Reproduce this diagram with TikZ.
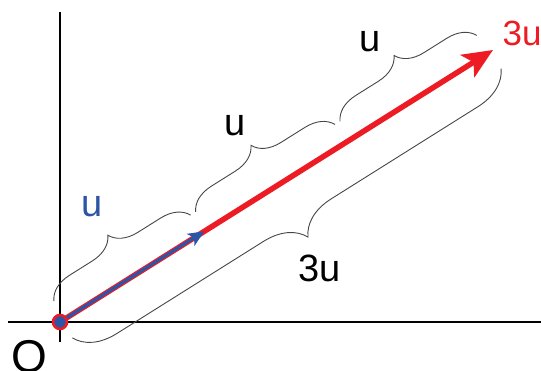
\documentclass[tikz,border=0pt]{standalone}
\usepackage{fontspec}
\setmainfont{Liberation Sans}
\usepackage{tikz}
\usetikzlibrary{positioning, arrows.meta, calc, decorations.pathreplacing}
\definecolor{vecred}{RGB}{237,28,36}
\definecolor{vecblue}{RGB}{46,84,166}
\definecolor{bracegray}{RGB}{70,70,70}

\begin{document}
\begin{tikzpicture}[x=1pt, y=1pt,
        axis/.style={line width=2.4pt, black},
        bigvec/.style={line width=5.5pt, vecred, -{Stealth[length=30pt, width=26pt, inset=7pt]}},
        smallvec/.style={line width=3.2pt, vecblue, -{Stealth[length=16pt, width=14pt, inset=4pt]}},
        ubrace/.style={draw=bracegray, line width=0.9pt, decorate,
            decoration={brace, amplitude=27pt, raise=21pt}},
        lbrace/.style={draw=bracegray, line width=0.9pt, decorate,
            decoration={brace, amplitude=40pt, raise=20pt}},
        vlbl/.style={font=\fontsize{38}{44}\selectfont, inner sep=0pt}]
        \useasboundingbox (0,0) rectangle (541,371);
        % points along the vector
        \coordinate (O)  at (60, 49);
        \coordinate (U1) at ($(O)+(144.33, 90.67)$);
        \coordinate (U2) at ($(O)+(288.67, 181.33)$);
        \coordinate (U3) at ($(O)+(433, 272)$);
        % axes
        \coordinate (xl) at (8, 49);
        \coordinate (xr) at (541, 49);
        \coordinate (yb) at (60, 29);
        \coordinate (yt) at (60, 359);
        \draw[axis] (xl) -- (xr);
        \draw[axis] (yb) -- (yt);
        % braces
        \draw[ubrace] ($(O)!6pt!(U1)$) -- ($(U1)!3pt!(O)$);
        \draw[ubrace] ($(U1)!3pt!(U2)$) -- ($(U2)!3pt!(U1)$);
        \draw[ubrace] ($(U2)!3pt!(U3)$) -- ($(U3)!6pt!(U2)$);
        \draw[lbrace] ($(U3)!3pt!(O)$) -- ($(O)!2pt!(U3)$);
        % vectors
        \draw[bigvec] (O) -- (U3);
        \draw[smallvec] (O) -- (U1);
        \node[circle, fill=vecblue, draw=vecred, line width=2.6pt, minimum size=14pt, inner sep=0pt] (dot) at (O) {};
        % labels
        \node[vlbl, text=vecblue] (lu1) at (92, 164) {u};
        \node[vlbl] (lu2) at (235, 245) {u};
        \node[vlbl] (lu3) at (370, 329) {u};
        \node[vlbl, text=vecred, font=\fontsize{35}{40}\selectfont] (l3u) at (522, 338) {3u};
        \node[vlbl] (l3ub) at (320, 103) {3u};
        \node[vlbl, font=\fontsize{46}{50}\selectfont] (lO) at (29, 14) {O};
      \end{tikzpicture}
\end{document}
